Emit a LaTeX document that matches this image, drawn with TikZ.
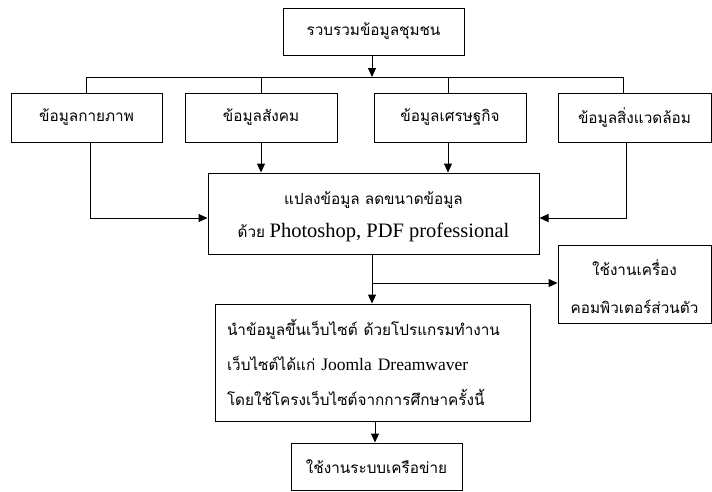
\documentclass[tikz,border=0pt]{standalone}
\usepackage{fontspec}
\setmainfont{Liberation Serif}
\newfontfamily\thaifont[Script=Thai,Scale=0.85]{Loma}
\newcommand\tx[1]{{\thaifont #1}}
\usetikzlibrary{arrows.meta}
\begin{document}
\begin{tikzpicture}[x=1pt,y=-1pt,
  box/.style={draw, line width=1pt, inner sep=0pt, font=\fontsize{18}{22}\selectfont},
  lbl/.style={inner sep=0pt, align=center},
  arr/.style={-{Triangle[length=9pt,width=8pt]}, line width=1pt},
  ln/.style={line width=1pt}]
\useasboundingbox (0,0) rectangle (712,491);
\fill[white] (0,0) rectangle (712,491);
% boxes
\node[box, minimum width=181pt, minimum height=47pt] (top) at (373.5,31.5) {\tx{รวบรวมข้อมูลชุมชน}};
\node[box, minimum width=151pt, minimum height=49pt] (b1) at (86.5,117.5) {\tx{ข้อมูลกายภาพ}};
\node[box, minimum width=152pt, minimum height=49pt] (b2) at (261,117.5) {\tx{ข้อมูลสังคม}};
\node[box, minimum width=152pt, minimum height=49pt] (b3) at (450,117.5) {\tx{ข้อมูลเศรษฐกิจ}};
\node[box, minimum width=153pt, minimum height=49pt] (b4) at (634.5,117.5) {\tx{ข้อมูลสิ่งแวดล้อม}};
\node[box, minimum width=331pt, minimum height=81pt] (big) at (373.5,213.5) {};
\node[lbl, font=\fontsize{18}{33}\selectfont] (bigt) at (373.5,217)
  {\tx{แปลงข้อมูล ลดขนาดข้อมูล}\\\tx{ด้วย} {\fontsize{20.5}{33}\selectfont Photoshop, PDF professional}};
\node[box, minimum width=153pt, minimum height=78pt] (rb) at (634.5,284) {};
\node[lbl, font=\fontsize{18}{38}\selectfont] (rbt) at (634.5,287)
  {\tx{ใช้งานเครื่อง}\\\tx{คอมพิวเตอร์ส่วนตัว}};
\node[box, minimum height=117pt, text width=291pt, inner xsep=12pt, align=left, font=\fontsize{18}{35}\selectfont] (lb) at (372.5,362.5)
  {\tx{นำข้อมูลขึ้นเว็บไซต์ ด้วยโปรแกรมทำงาน}\\\tx{เว็บไซต์ได้แก่} {\fontsize{17.5}{35}\selectfont Joomla Dreamwaver}\\\tx{โดยใช้โครงเว็บไซต์จากการศึกษาครั้งนี้}};
\node[box, minimum width=171pt, minimum height=47pt] (bt) at (376.5,466.5) {\tx{ใช้งานระบบเครือข่าย}};
% connectors
\coordinate (h) at (0,77);
\coordinate (m) at (0,218);
\coordinate (r4) at (623,93);
\coordinate (br) at (372,283);
\draw[arr] ([xshift=-1.5pt]top.south) -- ([xshift=-1.5pt]top.south |- h);
\draw[ln] (b1.north) -- (b1.north |- h) -- (r4 |- h) -- (r4);
\draw[ln] (b2.north) -- (b2.north |- h);
\draw[ln] ([xshift=-2pt]b3.north) -- ([xshift=-2pt]b3.north |- h);
\draw[arr] ([xshift=3.5pt]b1.south) |- (big.west |- m);
\draw[arr] ([xshift=-8.5pt]b4.south) |- (big.east |- m);
\draw[arr] (b2.south) -- (b2.south |- big.north);
\draw[arr] ([xshift=-2pt]b3.south) -- ([xshift=-2pt]b3.south |- big.north);
\draw[arr] ([xshift=-1.5pt]big.south) -- ([xshift=-1.5pt]big.south |- lb.north);
\draw[arr] (br) -- (rb.west |- br);
\draw[arr] ([xshift=2.5pt]lb.south) -- ([xshift=2.5pt]lb.south |- bt.north);
\end{tikzpicture}
\end{document}
